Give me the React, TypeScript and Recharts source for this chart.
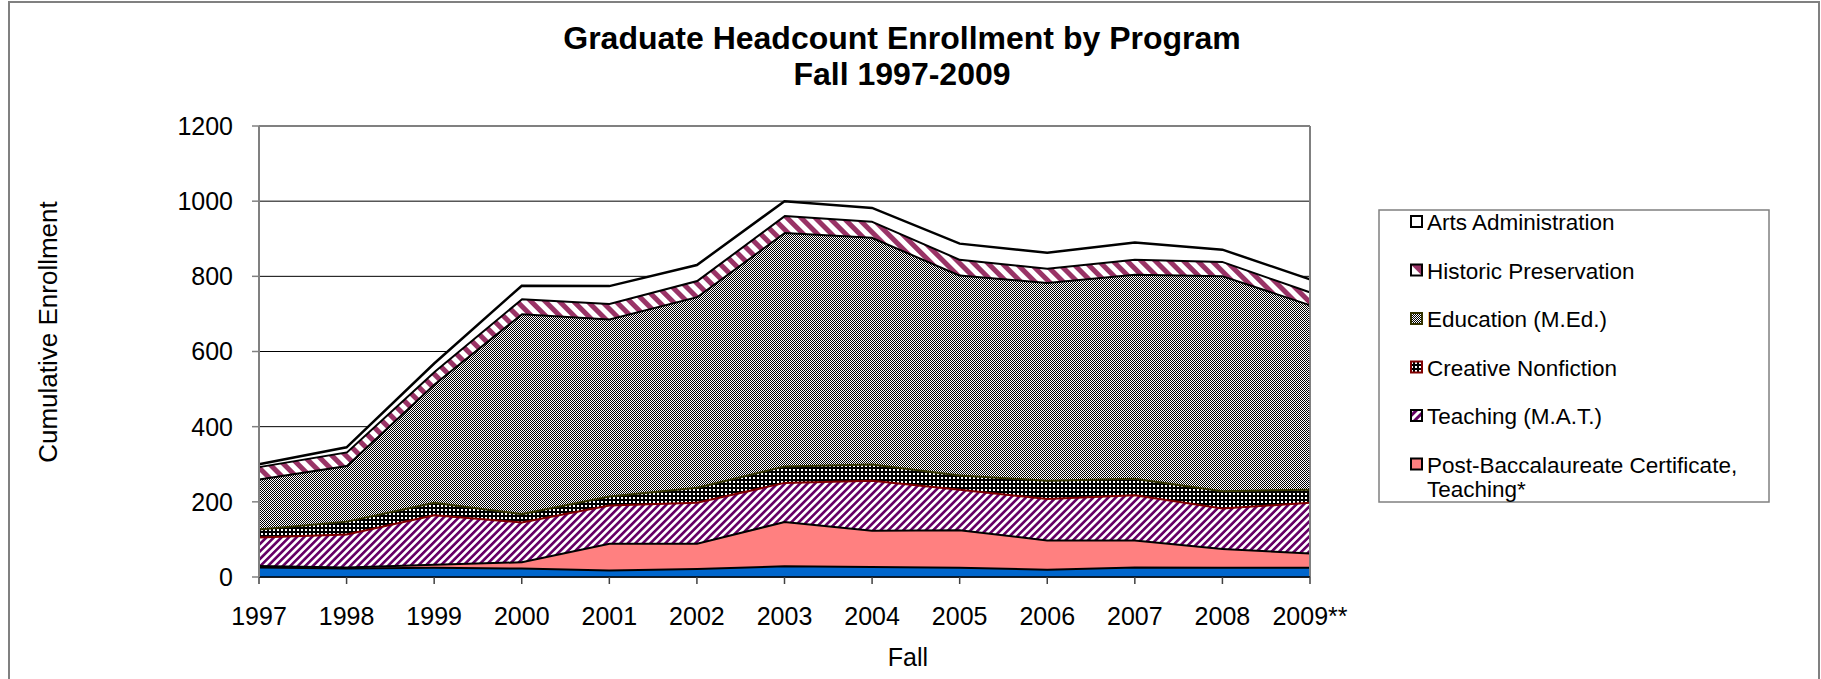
import React from 'react';
import { AreaChart, Area, XAxis, YAxis, CartesianGrid, ReferenceLine, Legend } from 'recharts';

const FONT = '"Liberation Sans", Arial, Helvetica, sans-serif';

const years = ['1997', '1998', '1999', '2000', '2001', '2002', '2003', '2004', '2005', '2006', '2007', '2008', '2009**'];
const unlabeledProgram = [28, 25, 27, 25, 20, 24, 31, 29, 27, 22, 28, 27, 27];
const postBaccTeaching = [4, 3, 8, 17, 71, 67, 118, 97, 100, 78, 72, 50, 38];
const teachingMAT = [76, 88, 132, 106, 102, 109, 104, 133, 108, 110, 120, 108, 135];
const creativeNonfiction = [21, 34, 33, 22, 24, 40, 44, 43, 38, 49, 44, 46, 35];
const educationMEd = [133, 148, 315, 532, 471, 507, 621, 603, 532, 526, 543, 572, 491];
const historicPreservation = [33, 36, 33, 40, 41, 43, 45, 43, 42, 38, 40, 38, 34];
const artsAdministration = [5, 11, 20, 33, 45, 40, 37, 34, 40, 40, 43, 30, 32];
const yTicks = [0, 200, 400, 600, 800, 1000, 1200];

const titleLines = ['Graduate Headcount Enrollment by Program', 'Fall 1997-2009'];
const yAxisTitle = 'Cumulative Enrollment';
const xAxisTitle = 'Fall';

const series = [
  { key: 'unlabeled', values: unlabeledProgram, fill: '#0066CC', stroke: '#000000', width: 4 },
  { key: 'postBacc', values: postBaccTeaching, fill: '#FF8080', stroke: '#000000', width: 4 },
  { key: 'mat', values: teachingMAT, fill: 'url(#patMAT)', stroke: '#800000', width: 4 },
  { key: 'cnf', values: creativeNonfiction, fill: 'url(#patCNF)', stroke: '#333300', width: 4 },
  { key: 'edu', values: educationMEd, fill: 'url(#patEdu)', stroke: '#000000', width: 4 },
  { key: 'hp', values: historicPreservation, fill: 'url(#patHP)', stroke: '#000000', width: 4 },
  { key: 'arts', values: artsAdministration, fill: '#FFFFFF', stroke: '#000000', width: 2.5 },
];

const legendItems = [
  { lines: ['Arts Administration'], fill: '#FFFFFF', border: '#000000' },
  { lines: ['Historic Preservation'], fill: 'url(#patHPs)', border: '#000000' },
  { lines: ['Education (M.Ed.)'], fill: 'url(#patEdu)', border: '#333300' },
  { lines: ['Creative Nonfiction'], fill: 'url(#patCNF)', border: '#800000' },
  { lines: ['Teaching (M.A.T.)'], fill: 'url(#patMATs)', border: '#000000' },
  { lines: ['Post-Baccalaureate Certificate,', 'Teaching*'], fill: '#FF8080', border: '#000000' },
];

const data = years.map((year, i) => {
  const row: Record<string, string | number> = { year };
  series.forEach((s) => {
    row[s.key] = s.values[i];
  });
  return row;
});

const renderLegend = () => (
  <svg width={392} height={300} style={{ overflow: 'visible', display: 'block' }}>
    <rect x={1} y={1} width={390} height={292} fill="#FFFFFF" stroke="#808080" strokeWidth={1.5} />
    {legendItems.map((item, i) => {
      const baseline = 21 + i * 48.5;
      return (
        <g key={i}>
          <rect x={33} y={baseline - 14} width={11} height={11} fill={item.fill} stroke={item.border} strokeWidth={2} />
          {item.lines.map((line, j) => (
            <text key={j} x={49} y={baseline + j * 24} fontSize={22.5} fontFamily={FONT} fill="#000000">
              {line}
            </text>
          ))}
        </g>
      );
    })}
  </svg>
);

const renderYLabel = () => (
  <text
    x={57}
    y={332}
    transform="rotate(-90 57 332)"
    textAnchor="middle"
    fontSize={26}
    fontFamily={FONT}
    fill="#000000"
  >
    {yAxisTitle}
  </text>
);

const renderXLabel = () => (
  <text x={908} y={666} textAnchor="middle" fontSize={25} fontFamily={FONT} fill="#000000">
    {xAxisTitle}
  </text>
);

export default function App() {
  return (
    <div
      style={{
        position: 'absolute',
        left: 0,
        top: 0,
        width: 1821,
        height: 679,
        overflow: 'hidden',
        background: '#FFFFFF',
        fontFamily: FONT,
      }}
    >
      <div
        style={{
          position: 'absolute',
          left: 8,
          top: 1,
          width: 1812,
          height: 700,
          border: '2px solid #808080',
          boxSizing: 'border-box',
        }}
      />
      <div
        style={{
          position: 'absolute',
          left: 402,
          top: 20,
          width: 1000,
          textAlign: 'center',
          fontSize: 32,
          lineHeight: '36px',
          fontWeight: 'bold',
          color: '#000000',
          zIndex: 2,
        }}
      >
        {titleLines.map((l, i) => (
          <div key={i}>{l}</div>
        ))}
      </div>
      <AreaChart width={1821} height={679} data={data} margin={{ top: 126, right: 511, bottom: 72, left: 199 }}>
        <defs>
          <pattern id="patMAT" width={5.3} height={5.3} patternUnits="userSpaceOnUse" patternTransform="rotate(45)">
            <rect width={5.3} height={5.3} fill="#FFFFFF" />
            <rect width={2.65} height={5.3} fill="#660066" />
          </pattern>
          <pattern id="patMATs" width={6} height={6} patternUnits="userSpaceOnUse" patternTransform="rotate(45)">
            <rect width={6} height={6} fill="#FFFFFF" />
            <rect width={3} height={6} fill="#660066" />
          </pattern>
          <pattern id="patHP" width={10} height={10} patternUnits="userSpaceOnUse" patternTransform="rotate(-45)">
            <rect width={10} height={10} fill="#FFFFFF" />
            <rect width={5} height={10} fill="#993366" />
          </pattern>
          <pattern id="patHPs" width={16} height={16} patternUnits="userSpaceOnUse" patternTransform="rotate(-45)">
            <rect width={16} height={16} fill="#FFFFFF" />
            <rect width={8} height={16} fill="#993366" />
          </pattern>
          <pattern id="patCNF" width={4} height={4} patternUnits="userSpaceOnUse">
            <rect width={4} height={4} fill="#000000" />
            <rect x={1} y={1} width={2} height={2} fill="#FFFFFF" />
          </pattern>
          <pattern id="patEdu" width={2} height={2} patternUnits="userSpaceOnUse">
            <rect width={2} height={2} fill="#FFFFFF" />
            <rect width={1} height={1} fill="#000000" />
            <rect x={1} y={1} width={1} height={1} fill="#000000" />
          </pattern>
        </defs>
        <CartesianGrid vertical={false} stroke="#000000" strokeWidth={1} />
        <XAxis
          dataKey="year"
          interval={0}
          tickSize={7}
          tickMargin={23}
          height={30}
          padding={{ left: 0, right: 0 }}
          axisLine={{ stroke: '#000000', strokeWidth: 1.5 }}
          tickLine={{ stroke: '#404040', strokeWidth: 1.5 }}
          tick={{ fill: '#000000', fontSize: 25, fontFamily: FONT }}
          label={renderXLabel}
        />
        <YAxis
          domain={[0, 1200]}
          ticks={yTicks}
          interval={0}
          width={60}
          tickSize={7}
          tickMargin={19}
          axisLine={{ stroke: '#808080', strokeWidth: 2 }}
          tickLine={{ stroke: '#808080', strokeWidth: 1.5 }}
          tick={{ fill: '#000000', fontSize: 25, fontFamily: FONT }}
          label={renderYLabel}
        />
        {series.map((s) => (
          <Area
            key={s.key}
            type="linear"
            dataKey={s.key}
            stackId="enroll"
            fill={s.fill}
            fillOpacity={1}
            stroke={s.stroke}
            strokeWidth={s.width}
            dot={false}
            activeDot={false}
            isAnimationActive={false}
          />
        ))}
        <ReferenceLine y={1200} stroke="#808080" strokeWidth={2} />
        <ReferenceLine x="2009**" stroke="#808080" strokeWidth={2} />
        <Legend
          layout="horizontal"
          verticalAlign="middle"
          align="center"
          content={renderLegend}
          wrapperStyle={{ left: 1378, top: 209, width: 392, height: 300 }}
        />
      </AreaChart>
    </div>
  );
}
